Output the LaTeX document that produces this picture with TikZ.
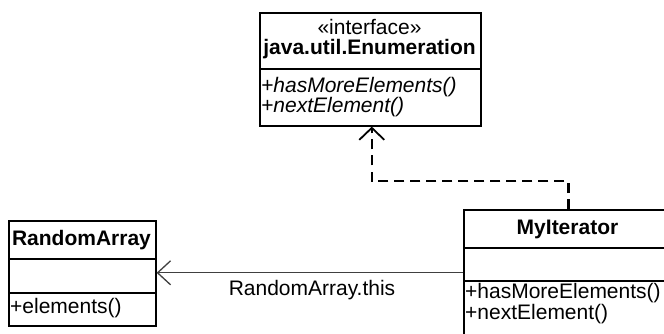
\documentclass[tikz,border=0pt]{standalone}
\usepackage{fontspec}
\setmainfont{Liberation Sans}
\usetikzlibrary{arrows.meta}
\begin{document}
\begin{tikzpicture}[x=1pt,y=-1pt,
  umlbox/.style={draw=black,line width=1.6pt,inner sep=0pt,anchor=north west,minimum width=#1},
  txt/.style={inner sep=0pt,font=\fontsize{21}{21}\selectfont},
  realize/.style={line width=2.5pt,dash pattern=on 10pt off 6pt,
     -{Straight Barb[length=12pt,width=25pt,line width=1.8pt]}},
  assoc/.style={draw=black!75,line width=1.3pt,
     -{Straight Barb[length=13pt,width=24pt,line width=1.3pt]}}]
\clip (0,0) rectangle (664,334);
\fill[white] (0,0) rectangle (664,334);
% interface
\node[umlbox=221pt,minimum height=56pt] (ifcHead) at (259,12) {};
\node[umlbox=221pt,minimum height=57pt] (ifcOps) at (259,68) {};
\node[txt,anchor=base] (ifcSt) at (369.5,35) {«interface»};
\node[txt,anchor=base] (ifcName) at (369.5,55) {\bfseries java.util.Enumeration};
\node[txt,anchor=base west] (ifcM1) at (261,93) {\itshape +hasMoreElements()};
\node[txt,anchor=base west] (ifcM2) at (261,113) {\itshape +nextElement()};
% RandomArray
\node[umlbox=147pt,minimum height=38pt] (raHead) at (8,220) {};
\node[umlbox=147pt,minimum height=34pt] (raAttr) at (8,258) {};
\node[umlbox=147pt,minimum height=33pt] (raOps) at (8,292) {};
\node[txt,anchor=base] (raName) at (81.5,245) {\bfseries RandomArray};
\node[txt,anchor=base west] (raM1) at (10,313) {+elements()};
% MyIterator
\node[umlbox=209pt,minimum height=38pt] (miHead) at (463,209) {};
\node[umlbox=209pt,minimum height=33pt] (miAttr) at (463,247) {};
\node[umlbox=209pt,minimum height=70pt] (miOps) at (463,280) {};
\node[txt,anchor=base] (miName) at (567.5,234) {\bfseries MyIterator};
\node[txt,anchor=base west] (miM1) at (465,298) {+hasMoreElements()};
\node[txt,anchor=base west] (miM2) at (465,319) {+nextElement()};
% connectors
\draw[realize] (miHead.north) -- ++(0,-28) -| ([xshift=1.5pt]ifcOps.south);
\coordinate (aStart) at ([yshift=-8.5pt]miAttr.west);
\draw[assoc] (aStart) -- (aStart -| raAttr.east);
\node[txt,anchor=base] (aLabel) at (312,295) {RandomArray.this};
\end{tikzpicture}
\end{document}
